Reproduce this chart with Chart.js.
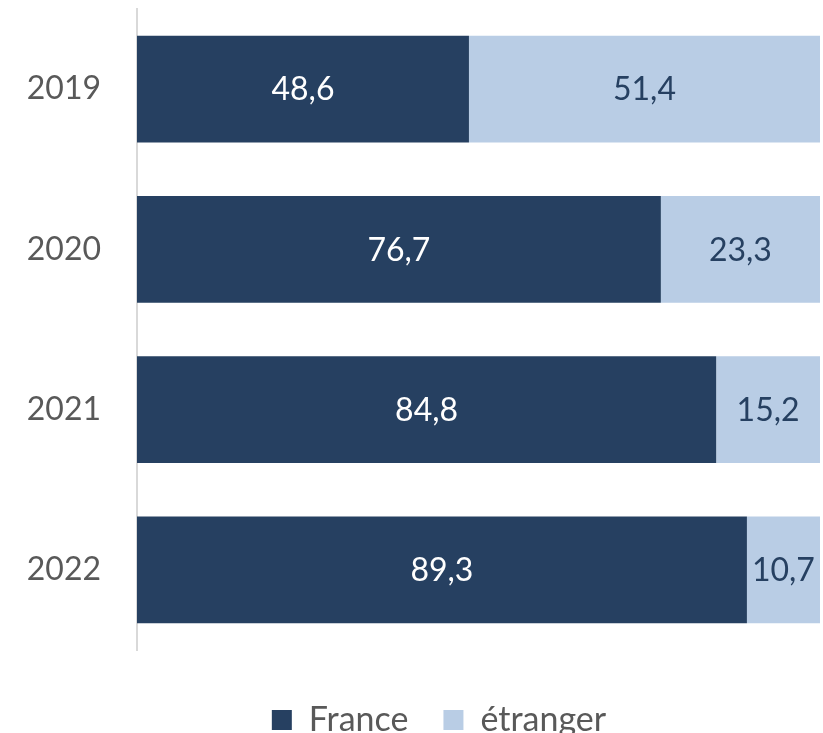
<!DOCTYPE html>
<html>
<head>
<meta charset="utf-8">
<script src="https://cdn.jsdelivr.net/npm/chart.js@4/dist/chart.umd.min.js"></script>
<style>
  html, body { margin: 0; padding: 0; background: #ffffff; }
  #wrap { width: 823px; height: 733px; }
</style>
</head>
<body>
<div id="wrap"><canvas id="shareChart" width="823" height="733"></canvas></div>
<script>
// Data
const years = ['2019', '2020', '2021', '2022'];
const franceValues = [48.6, 76.7, 84.8, 89.3];
const etrangerValues = [51.4, 23.3, 15.2, 10.7];
const seriesNames = ['France', 'étranger'];

const darkBlue = '#264061';
const lightBlue = '#b9cde5';
const fontFamily = 'Lato, "Open Sans", sans-serif';

// Labels inside bars (French decimal comma)
const barLabels = {
  id: 'barLabels',
  afterDatasetsDraw(chart) {
    const ctx = chart.ctx;
    ctx.save();
    ctx.font = '32px ' + fontFamily;
    ctx.textAlign = 'center';
    ctx.textBaseline = 'middle';
    chart.data.datasets.forEach((ds, i) => {
      const meta = chart.getDatasetMeta(i);
      meta.data.forEach((bar, j) => {
        const v = ds.data[j];
        const cx = (bar.x + bar.base) / 2;
        ctx.fillStyle = i === 0 ? '#ffffff' : darkBlue;
        ctx.fillText(v.toFixed(1).replace('.', ','), cx, bar.y + 1);
      });
    });
    ctx.restore();
  }
};

// legend sits a bit right of the canvas centre
const legendShift = {
  id: 'legendShift',
  afterLayout(chart) {
    chart.legend.left += 29;
    chart.legend.right += 29;
  }
};

const ctx = document.getElementById('shareChart').getContext('2d');
new Chart(ctx, {
  type: 'bar',
  data: {
    labels: years,
    datasets: [
      { label: seriesNames[0], data: franceValues, backgroundColor: darkBlue },
      { label: seriesNames[1], data: etrangerValues, backgroundColor: lightBlue }
    ]
  },
  options: {
    indexAxis: 'y',
    responsive: false,
    animation: false,
    categoryPercentage: 1,
    barPercentage: 0.667,
    layout: { padding: { top: 9, right: 3, bottom: -14, left: 0 } },
    scales: {
      x: {
        stacked: true,
        min: 0,
        max: 100,
        ticks: { display: false },
        grid: { display: false, drawTicks: false },
        border: { display: false },
        afterFit(scale) { scale.height = 18; }
      },
      y: {
        stacked: true,
        grid: { display: false, drawTicks: false },
        border: { display: true, color: '#d9d9d9', width: 2 },
        ticks: {
          color: '#595959',
          padding: 36,
          font: { family: fontFamily, size: 32 }
        },
        afterFit(scale) {
          scale.width = 137;
          scale.paddingTop = 0;
          scale.paddingBottom = 0;
        }
      }
    },
    plugins: {
      legend: {
        position: 'bottom',
        labels: {
          color: '#595959',
          boxWidth: 20,
          boxHeight: 20,
          padding: 35,
          font: { family: fontFamily, size: 34 }
        }
      },
      tooltip: { enabled: false }
    }
  },
  plugins: [barLabels, legendShift]
});
</script>
</body>
</html>
